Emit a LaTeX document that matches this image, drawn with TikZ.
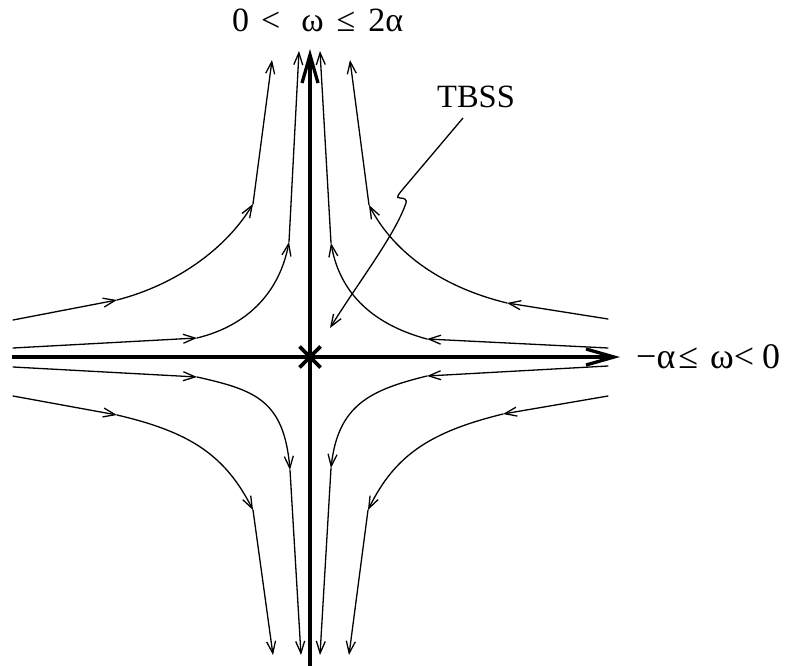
\documentclass[tikz,border=0pt]{standalone}
\usepackage{fontspec}
\setmainfont{Liberation Serif}
\usetikzlibrary{arrows.meta}
\begin{document}
\begin{tikzpicture}[x=1pt,y=-1pt,
  flow/.style={line width=1.3pt,line cap=round,-{Straight Barb[length=12pt,width=9pt]}},
  axisline/.style={line width=3.3pt,-{Straight Barb[length=28pt,width=16pt]}},
  cross/.style={line width=3.6pt},
  leader/.style={line width=1.3pt,-{Straight Barb[length=12pt,width=9pt]}},
  lbl/.style={inner sep=0pt,anchor=base west}]
\useasboundingbox (0,0) rectangle (792,666);
% axes
\coordinate (hl) at (12,357);
\coordinate (hr) at (620,357);
\coordinate (vb) at (310,666);
\coordinate (vt) at (310,49);
\coordinate (O) at (310,357);
\draw[axisline] (hl) -- (hr);
\draw[axisline] (vb) -- (vt);
\draw[cross] ([shift={(-10.5,-10.5)}]O) -- ([shift={(10.5,10.5)}]O);
\draw[cross] ([shift={(-10.5,10.5)}]O) -- ([shift={(10.5,-10.5)}]O);
% labels
\node[lbl,font=\fontsize{34}{38}\selectfont] (top) at (232,32)
  {0\hspace{12pt}<\hspace{21pt}ω\hspace{13pt}≤\hspace{13pt}2α};
\node[lbl,font=\fontsize{36}{40}\selectfont,anchor=west] (right) at (636,357)
  {−α\hspace{3pt}≤\hspace{12pt}ω<\hspace{8pt}0};
\node[lbl,font=\fontsize{32.5}{38}\selectfont] (tbss) at (437,108) {TBSS};
% top-left outer
\coordinate (a0) at (13,320); \coordinate (a1) at (117,300);
\coordinate (a2) at (253,204); \coordinate (a3) at (272,60);
\draw[flow] (a0) -- (a1);
\draw[flow] (a1) .. controls (175,285) and (225,250) .. (a2);
\draw[flow] (a2) -- (a3);
% top-left inner
\coordinate (b0) at (13,348); \coordinate (b1) at (197,338);
\coordinate (b2) at (289,242); \coordinate (b3) at (299,51);
\draw[flow] (b0) -- (b1);
\draw[flow] (b1) .. controls (250,325) and (280,290) .. (b2);
\draw[flow] (b2) -- (b3);
% top-right inner
\coordinate (c0) at (608,348); \coordinate (c1) at (427,339);
\coordinate (c2) at (331,243); \coordinate (c3) at (320,51);
\draw[flow] (c0) -- (c1);
\draw[flow] (c1) .. controls (375,325) and (340,295) .. (c2);
\draw[flow] (c2) -- (c3);
% top-right outer
\coordinate (d0) at (608,319); \coordinate (d1) at (507,303);
\coordinate (d2) at (369,205); \coordinate (d3) at (350,60);
\draw[flow] (d0) -- (d1);
\draw[flow] (d1) .. controls (445,288) and (395,255) .. (d2);
\draw[flow] (d2) -- (d3);
% bottom-left inner
\coordinate (e0) at (13,367); \coordinate (e1) at (197,377);
\coordinate (e2) at (290,470); \coordinate (e3) at (301,655);
\draw[flow] (e0) -- (e1);
\draw[flow] (e1) .. controls (255,390) and (284,400) .. (e2);
\draw[flow] (e2) -- (e3);
% bottom-left outer
\coordinate (f0) at (13,396); \coordinate (f1) at (117,415);
\coordinate (f2) at (253,510); \coordinate (f3) at (273,655);
\draw[flow] (f0) -- (f1);
\draw[flow] (f1) .. controls (190,432) and (225,455) .. (f2);
\draw[flow] (f2) -- (f3);
% bottom-right inner
\coordinate (g0) at (608,366); \coordinate (g1) at (427,376);
\coordinate (g2) at (331,468); \coordinate (g3) at (320,655);
\draw[flow] (g0) -- (g1);
\draw[flow] (g1) .. controls (370,390) and (338,405) .. (g2);
\draw[flow] (g2) -- (g3);
% bottom-right outer
\coordinate (h0) at (608,396); \coordinate (h1) at (503,414);
\coordinate (h2) at (368,510); \coordinate (h3) at (349,655);
\draw[flow] (h0) -- (h1);
\draw[flow] (h1) .. controls (430,432) and (395,455) .. (h2);
\draw[flow] (h2) -- (h3);
% TBSS leader
\coordinate (t0) at (463,118); \coordinate (t1) at (403,189);
\coordinate (t2) at (406,203); \coordinate (t3) at (330,328);
\draw[leader] (t0) -- (t1) .. controls (399,194) and (395,198) .. (400,198)
  .. controls (405,198) and (407,200) .. (t2)
  .. controls (395,235) and (360,280) .. (t3);
\end{tikzpicture}
\end{document}
